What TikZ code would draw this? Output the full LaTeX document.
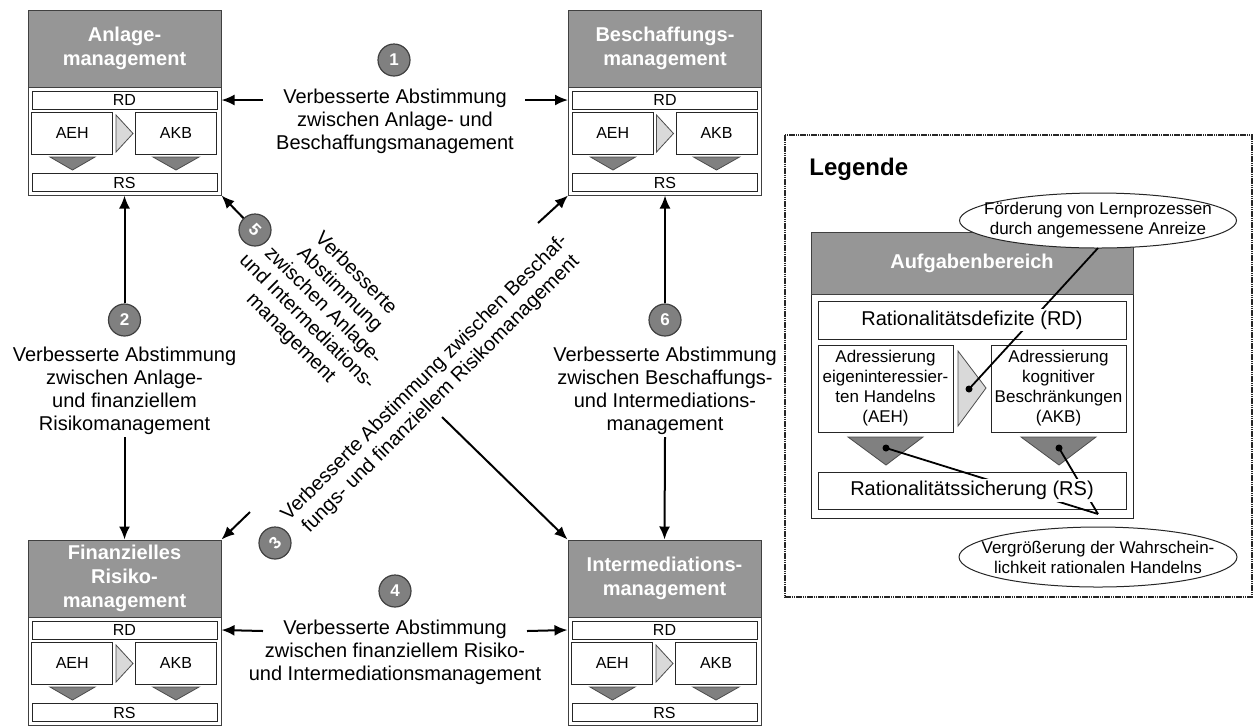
\documentclass[tikz,border=0pt]{standalone}
\usepackage{fontspec}
\setmainfont{Liberation Sans}
\usepackage{tikz}
\usetikzlibrary{arrows.meta, shapes.geometric}
\definecolor{kopfgrau}{RGB}{150,150,150}
\definecolor{dreieckgrau}{RGB}{128,128,128}
\definecolor{hellgrau}{RGB}{217,217,217}

\begin{document}
\begin{tikzpicture}[x=0.5pt,y=0.5pt,yscale=-1,
  modbox/.style={draw=black!75, fill=white, line width=0.5pt, minimum width=96.5pt, minimum height=92.5pt, inner sep=0pt},
  kopf/.style={draw=black!75, fill=kopfgrau, text=white, font=\fontsize{10}{12}\selectfont\bfseries, align=center, minimum width=96.5pt, minimum height=38.5pt, inner sep=0pt},
  zeile/.style={draw=black!85, fill=white, line width=0.5pt, minimum width=92.5pt, minimum height=9pt, inner sep=0pt, font=\fontsize{8}{9}\selectfont},
  teil/.style={draw=black!85, fill=white, line width=0.5pt, minimum width=40.5pt, minimum height=21pt, inner sep=0pt, font=\fontsize{8}{9}\selectfont},
  hellpfeil/.style={draw=black!70, fill=hellgrau, line width=0.4pt},
  dunkelpfeil/.style={draw=black!70, fill=dreieckgrau, line width=0.4pt},
  nummer/.style={circle, draw=black!75, fill=dreieckgrau, text=white, minimum size=16pt, inner sep=0pt, line width=0.6pt, font=\fontsize{8.5}{9}\selectfont\bfseries},
  beschr/.style={align=center, font=\fontsize{10}{11.5}\selectfont, inner sep=1pt},
  pfeil/.style={line width=1pt, -{Latex[length=6.5pt,width=5.5pt]}},
  linie/.style={line width=0.9pt},
  lgbox/.style={draw=black!85, fill=white, line width=0.5pt, inner sep=0pt},
  lgtext/.style={align=center, font=\fontsize{8.5}{10}\selectfont, inner sep=0pt},
  blase/.style={draw=black!85, fill=white, line width=0.5pt}
]
\useasboundingbox (0,0) rectangle (1257,725);

%Modul: Anlagemanagement
\begin{scope}[shift={(0,0)}]
\node [modbox] (anl) at (124.5,102.5) {};
\node [kopf] (anlK) at (124.5,48.5) {Anlage-\\management};
\node [zeile] (anlRD) at (124.5,100) {RD};
\node [teil] (anlAEH) at (72.25,133) {AEH};
\node [teil] (anlAKB) at (176,133) {AKB};
\node [zeile] (anlRS) at (124.5,182.5) {RS};
\draw [hellpfeil] (116,115) -- (133,133.5) -- (116,152) -- cycle;
\draw [dunkelpfeil] (50,157) -- (95,157) -- (72.5,170) -- cycle;
\draw [dunkelpfeil] (153,157) -- (199,157) -- (176,170) -- cycle;
\end{scope}

%Modul: Beschaffungsmanagement
\begin{scope}[shift={(540.5,0)}]
\node [modbox] (bes) at (124.5,102.5) {};
\node [kopf] (besK) at (124.5,48.5) {Beschaffungs-\\management};
\node [zeile] (besRD) at (124.5,100) {RD};
\node [teil] (besAEH) at (72.25,133) {AEH};
\node [teil] (besAKB) at (176,133) {AKB};
\node [zeile] (besRS) at (124.5,182.5) {RS};
\draw [hellpfeil] (116,115) -- (133,133.5) -- (116,152) -- cycle;
\draw [dunkelpfeil] (50,157) -- (95,157) -- (72.5,170) -- cycle;
\draw [dunkelpfeil] (153,157) -- (199,157) -- (176,170) -- cycle;
\end{scope}

%Modul: Finanzielles Risikomanagement
\begin{scope}[shift={(0,530)}]
\node [modbox] (fin) at (124.5,102.5) {};
\node [kopf] (finK) at (124.5,48.5) {Finanzielles\\Risiko-\\management};
\node [zeile] (finRD) at (124.5,100) {RD};
\node [teil] (finAEH) at (72.25,133) {AEH};
\node [teil] (finAKB) at (176,133) {AKB};
\node [zeile] (finRS) at (124.5,182.5) {RS};
\draw [hellpfeil] (116,115) -- (133,133.5) -- (116,152) -- cycle;
\draw [dunkelpfeil] (50,157) -- (95,157) -- (72.5,170) -- cycle;
\draw [dunkelpfeil] (153,157) -- (199,157) -- (176,170) -- cycle;
\end{scope}

%Modul: Intermediationsmanagement
\begin{scope}[shift={(540,530)}]
\node [modbox] (int) at (124.5,102.5) {};
\node [kopf] (intK) at (124.5,48.5) {Intermediations-\\management};
\node [zeile] (intRD) at (124.5,100) {RD};
\node [teil] (intAEH) at (72.25,133) {AEH};
\node [teil] (intAKB) at (176,133) {AKB};
\node [zeile] (intRS) at (124.5,182.5) {RS};
\draw [hellpfeil] (116,115) -- (133,133.5) -- (116,152) -- cycle;
\draw [dunkelpfeil] (50,157) -- (95,157) -- (72.5,170) -- cycle;
\draw [dunkelpfeil] (153,157) -- (199,157) -- (176,170) -- cycle;
\end{scope}

% 1: Anlage - Beschaffung
\node [nummer] (n1) at (394,60) {1};
\node [beschr] (t1) at (395,121) {Verbesserte Abstimmung\\zwischen Anlage- und\\Beschaffungsmanagement};
\coordinate (p1l) at (263,100);
\coordinate (p1r) at (525,100);
\draw [pfeil] (p1l) -- (anlRD.east -| anl.east);
\draw [pfeil] (p1r) -- (besRD.west -| bes.west);

% 4: Risiko - Intermediation
\node [nummer] (n4) at (395,591) {4};
\node [beschr] (t4) at (395,652) {Verbesserte Abstimmung\\zwischen finanziellem Risiko-\\und Intermediationsmanagement};
\coordinate (p4l) at (263,631);
\coordinate (p4r) at (527,631);
\draw [pfeil] (p4l) -- (finRD.east -| fin.east);
\draw [pfeil] (p4r) -- (intRD.west -| int.west);

% 2: Anlage - Risiko
\node [nummer] (n2) at (124.5,320) {2};
\node [beschr] (t2) at (124.5,391) {Verbesserte Abstimmung\\zwischen Anlage-\\und finanziellem\\Risikomanagement};
\draw [pfeil] (n2) -- (anl.south);
\draw [pfeil] (t2.south) -- (fin.north);

% 6: Beschaffung - Intermediation
\node [nummer] (n6) at (665,320) {6};
\node [beschr] (t6) at (665,391) {Verbesserte Abstimmung\\zwischen Beschaffungs-\\und Intermediations-\\management};
\draw [pfeil] (n6) -- (bes.south);
\draw [pfeil] (t6.south) -- (int.north);

% 5: Anlage - Intermediation
\node [nummer, rotate=-45] (n5) at (255,230) {5};
\node [beschr, rotate=-45] (t5) at (323,306) {Verbesserte\\Abstimmung\\zwischen Anlage-\\und Intermediations-\\management};
\coordinate (p5) at (442,417);
\draw [pfeil] (n5) -- (anl.south east);
\draw [pfeil] (p5) -- (int.north west);

% 3: Beschaffung - Risiko
\node [nummer, rotate=45] (n3) at (275,543) {3};
\node [beschr, rotate=45] (t3) at (433,386) {Verbesserte Abstimmung zwischen Beschaf-\\fungs- und finanziellem Risikomanagement};
\coordinate (p3u) at (250,512);
\coordinate (p3o) at (538,223);
\draw [pfeil] (p3u) -- (fin.north east);
\draw [pfeil] (p3o) -- (bes.south west);

%Legende
\draw [line width=1pt, black!85, dash pattern={on 0.8pt off 0.3pt}] (785,135) rectangle (1252,597);
\node [anchor=base west, inner sep=0pt, font=\fontsize{12}{14}\selectfont\bfseries] (legT) at (809,175) {Legende};

\node [lgbox, minimum width=161pt, minimum height=143pt] (auf) at (972,375) {};
\node [kopf, minimum width=161pt, minimum height=31pt] (aufK) at (972,263) {Aufgabenbereich};
\node [lgbox, minimum width=154pt, minimum height=19pt] (aufRD) at (972,320) {};
\node [lgbox, lgtext, minimum width=67.5pt, minimum height=43.5pt] (aufAEH) at (885.5,388.5) {Adressierung\\eigeninteressier-\\ten Handelns\\(AEH)};
\node [lgbox, lgtext, minimum width=67.5pt, minimum height=43.5pt] (aufAKB) at (1058.5,388.5) {Adressierung\\kognitiver\\Beschränkungen\\(AKB)};
\node [lgbox, minimum width=154pt, minimum height=18.5pt] (aufRS) at (972,490.5) {};
\draw [hellpfeil] (958,351) -- (986,388) -- (958,426) -- cycle;
\draw [dunkelpfeil] (848,437) -- (923,437) -- (886,465) -- cycle;
\draw [dunkelpfeil] (1021,437) -- (1096,437) -- (1059,465) -- cycle;

%Shape: Ellipse
\draw [blase] (1098,220.5) ellipse [x radius=138.5, y radius=27.5];
\node [lgtext] (ell1T) at (1098,220.5) {Förderung von Lernprozessen\\durch angemessene Anreize};
\draw [blase] (1098,557) ellipse [x radius=139, y radius=30];
\node [lgtext] (ell2T) at (1098,557) {Vergrößerung der Wahrschein-\\lichkeit rationalen Handelns};

\coordinate (e1) at (1098,248);
\coordinate (d1) at (969,389);
\coordinate (d2) at (886,448);
\coordinate (d3) at (1059,448);
\coordinate (z2) at (1098,514);
\draw [linie] (e1) -- (d1);
\draw [linie] (d2) -- (z2);
\draw [linie] (d3) -- (z2);
\fill (d1) circle [radius=3.5];
\fill (d2) circle [radius=3.5];
\fill (d3) circle [radius=3.5];

\node [fill=white, inner sep=1pt, font=\fontsize{10}{12}\selectfont] (aufRDT) at (aufRD) {Rationalitätsdefizite (RD)};
\node [fill=white, inner sep=1pt, font=\fontsize{10}{12}\selectfont] (aufRST) at (aufRS) {Rationalitätssicherung (RS)};

\end{tikzpicture}
\end{document}
